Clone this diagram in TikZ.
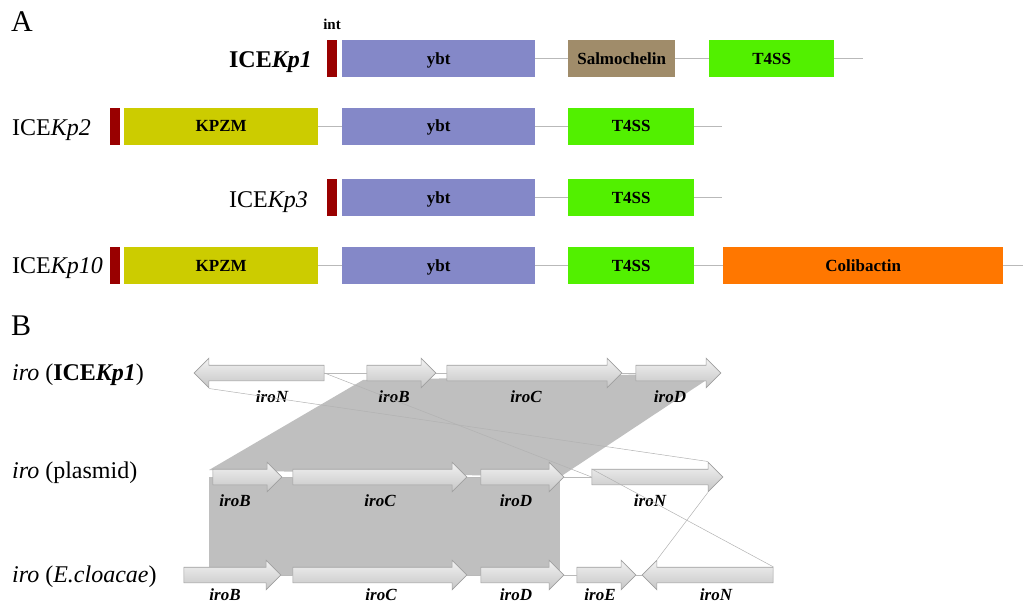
\documentclass[tikz,border=0pt]{standalone}
\usepackage{fontspec}
\setmainfont{Liberation Serif}
\usetikzlibrary{shapes.arrows}

\definecolor{intred}{RGB}{153,0,0}
\definecolor{ybtblue}{RGB}{132,136,200}
\definecolor{kpzmyel}{RGB}{204,204,0}
\definecolor{salmbrown}{RGB}{160,140,106}
\definecolor{tfssgreen}{RGB}{82,240,0}
\definecolor{colibor}{RGB}{255,119,0}

\tikzset{
	region/.style={anchor=west, minimum height=37pt, inner sep=0pt, text height=11.5pt, text depth=0pt,
		font=\bfseries\fontsize{17}{18}\selectfont},
	intbar/.style={region, fill=intred, minimum width=10pt},
	link/.style={draw=gray!55, line width=1pt},
	rowlab/.style={font=\fontsize{24}{28}\selectfont, inner sep=0pt},
	gene/.style={single arrow, single arrow head extend=7pt, inner xsep=0pt, inner ysep=7.5pt, minimum width=0pt,
		top color=gray!10, bottom color=gray!45, draw=gray!75, line width=0.6pt},
	genelab/.style={anchor=base, inner sep=0pt, font=\bfseries\itshape\fontsize{17}{18}\selectfont},
	thinlink/.style={draw=gray!60, line width=0.5pt}
}

\begin{document}
\begin{tikzpicture}[x=1pt, y=-1pt]
	\useasboundingbox (0,0) rectangle (1023,602);

	\node[anchor=base west, font=\fontsize{30}{32}\selectfont, inner sep=0pt] (labA) at (11,32) {A};
	\node[anchor=base, font=\bfseries\fontsize{15}{16}\selectfont, inner sep=0pt] (labint) at (332,30) {int};

	\node[rowlab, anchor=base east] (ice1) at (312,68) {\textbf{ICE\textit{Kp1}}};
	\node[intbar] (int1) at (327,59) {};
	\node[region, fill=ybtblue, minimum width=193pt] (ybt1) at (342,59) {ybt};
	\node[region, fill=salmbrown, minimum width=107pt] (sal1) at (568,59) {Salmochelin};
	\node[region, fill=tfssgreen, minimum width=125pt] (tfss1) at (709,59) {T4SS};
	\coordinate (end1) at (863,59);
	\draw[link] (ybt1.east) -- (sal1.west);
	\draw[link] (sal1.east) -- (tfss1.west);
	\draw[link] (tfss1.east) -- (end1);

	\node[rowlab, anchor=base west] (ice2) at (12,135) {ICE\textit{Kp2}};
	\node[intbar] (int2) at (110,126) {};
	\node[region, fill=kpzmyel, minimum width=194pt] (kpzm2) at (124,126) {KPZM};
	\node[region, fill=ybtblue, minimum width=193pt] (ybt2) at (342,126) {ybt};
	\node[region, fill=tfssgreen, minimum width=126pt] (tfss2) at (568,126) {T4SS};
	\coordinate (end2) at (722,126);
	\draw[link] (kpzm2.east) -- (ybt2.west);
	\draw[link] (ybt2.east) -- (tfss2.west);
	\draw[link] (tfss2.east) -- (end2);

	\node[rowlab, anchor=base east] (ice3) at (308,207) {ICE\textit{Kp3}};
	\node[intbar] (int3) at (327,197.5) {};
	\node[region, fill=ybtblue, minimum width=193pt] (ybt3) at (342,197.5) {ybt};
	\node[region, fill=tfssgreen, minimum width=126pt] (tfss3) at (568,197.5) {T4SS};
	\coordinate (end3) at (722,197.5);
	\draw[link] (ybt3.east) -- (tfss3.west);
	\draw[link] (tfss3.east) -- (end3);

	\node[rowlab, anchor=base west] (ice10) at (12,273) {ICE\textit{Kp10}};
	\node[intbar] (int10) at (110,265.5) {};
	\node[region, fill=kpzmyel, minimum width=194pt] (kpzm10) at (124,265.5) {KPZM};
	\node[region, fill=ybtblue, minimum width=193pt] (ybt10) at (342,265.5) {ybt};
	\node[region, fill=tfssgreen, minimum width=126pt] (tfss10) at (568,265.5) {T4SS};
	\node[region, fill=colibor, minimum width=280pt] (colib10) at (723,265.5) {Colibactin};
	\coordinate (end10) at (1023,265.5);
	\draw[link] (kpzm10.east) -- (ybt10.west);
	\draw[link] (ybt10.east) -- (tfss10.west);
	\draw[link] (tfss10.east) -- (colib10.west);
	\draw[link] (colib10.east) -- (end10);

	\node[anchor=base west, font=\fontsize{30}{32}\selectfont, inner sep=0pt] (labB) at (11,335) {B};

	\fill[gray!50] (363,380) -- (717,373) -- (560,477) -- (209,470) -- cycle;
	\fill[gray!50] (209,477) rectangle (560,575);

	\node[rowlab, anchor=base west] (iro1) at (12,380) {\textit{iro} (\textbf{ICE\textit{Kp1}})};
	\node[rowlab, anchor=base west] (iro2) at (12,478) {\textit{iro} (plasmid)};
	\node[rowlab, anchor=base west] (iro3) at (12,582) {\textit{iro} (\textit{E.cloacae})};

	\node[gene, shape border rotate=180, minimum height=130pt] (iroNa) at (263,373) {};
	\node[gene, minimum height=69pt] (iroBa) at (397.5,373) {};
	\node[gene, minimum height=175pt] (iroCa) at (530.5,373) {};
	\node[gene, minimum height=85pt] (iroDa) at (674.5,373) {};
	\draw[link] (iroNa.tail) -- (iroBa.tail);
	\draw[link] (iroBa.tip) -- (iroCa.tail);
	\draw[link] (iroCa.tip) -- (iroDa.tail);
	\node[genelab] (tNa) at (272,402) {iroN};
	\node[genelab] (tBa) at (394,402) {iroB};
	\node[genelab] (tCa) at (526,402) {iroC};
	\node[genelab] (tDa) at (670,402) {iroD};

	\node[gene, minimum height=69pt] (iroBb) at (243.5,477) {};
	\node[gene, minimum height=174pt] (iroCb) at (376,477) {};
	\node[gene, minimum height=83pt] (iroDb) at (518.5,477) {};
	\node[gene, minimum height=131pt] (iroNb) at (653.5,477) {};
	\draw[link] (iroBb.tip) -- (iroCb.tail);
	\draw[link] (iroCb.tip) -- (iroDb.tail);
	\draw[link] (iroDb.tip) -- (iroNb.tail);
	\node[genelab] (tBb) at (235,506) {iroB};
	\node[genelab] (tCb) at (380,506) {iroC};
	\node[genelab] (tDb) at (516,506) {iroD};
	\node[genelab] (tNb) at (650,506) {iroN};

	\node[gene, minimum height=97pt] (iroBc) at (228.5,575) {};
	\node[gene, minimum height=174pt] (iroCc) at (376,575) {};
	\node[gene, minimum height=83pt] (iroDc) at (518.5,575) {};
	\node[gene, minimum height=59pt] (iroEc) at (602.5,575) {};
	\node[gene, shape border rotate=180, minimum height=131pt] (iroNc) at (711.5,575) {};
	\draw[link] (iroBc.tip) -- (iroCc.tail);
	\draw[link] (iroCc.tip) -- (iroDc.tail);
	\draw[link] (iroDc.tip) -- (iroEc.tail);
	\draw[link] (iroEc.tip) -- (iroNc.tip);
	\node[genelab] (tBc) at (225,600) {iroB};
	\node[genelab] (tCc) at (381,600) {iroC};
	\node[genelab] (tDc) at (516,600) {iroD};
	\node[genelab] (tEc) at (600,600) {iroE};
	\node[genelab] (tNc) at (716,600) {iroN};

	\draw[thinlink] (iroNa.tail) -- (iroNb.tail);
	\draw[thinlink] (iroNa.before tip) -- (iroNb.before tip);
	\draw[thinlink] (iroNb.after tail) -- (iroNc.before tail);
	\draw[thinlink] (iroNb.after tip) -- (iroNc.after tip);
\end{tikzpicture}
\end{document}
